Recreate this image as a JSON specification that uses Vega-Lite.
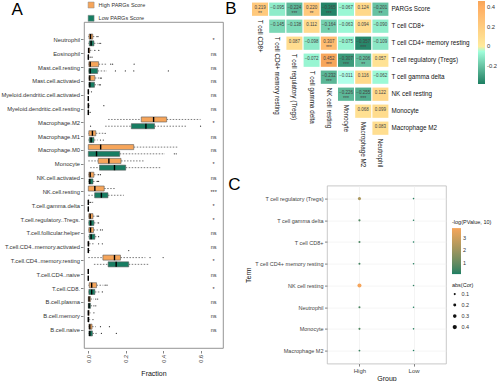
{
"$schema": "https://vega.github.io/schema/vega-lite/v6.json",
"padding": 0,
"config": {"font": "Liberation Sans", "view": {"stroke": null}, "title": {"fontWeight": "normal"}},
"datasets": {
"box": [
{"cell":"Neutrophil","grp":"High","lo":0,"q1":0.004,"med":0.012,"q3":0.024,"hi":0.04},
{"cell":"Neutrophil","grp":"Low","lo":0,"q1":0.005,"med":0.015,"q3":0.03,"hi":0.05},
{"cell":"Eosinophil","grp":"High","lo":0,"q1":0,"med":0.002,"q3":0.008,"hi":0.025},
{"cell":"Eosinophil","grp":"Low","lo":0,"q1":0,"med":0,"q3":0.002,"hi":0.004},
{"cell":"Mast.cell.resting","grp":"High","lo":0,"q1":0.003,"med":0.01,"q3":0.055,"hi":0.1},
{"cell":"Mast.cell.resting","grp":"Low","lo":0,"q1":0.003,"med":0.01,"q3":0.05,"hi":0.1},
{"cell":"Mast.cell.activated","grp":"High","lo":0,"q1":0.003,"med":0.008,"q3":0.035,"hi":0.06},
{"cell":"Mast.cell.activated","grp":"Low","lo":0,"q1":0.003,"med":0.008,"q3":0.033,"hi":0.055},
{"cell":"Myeloid.dendritic.cell.activated","grp":"High","lo":0,"q1":0,"med":0,"q3":0.002,"hi":0.005},
{"cell":"Myeloid.dendritic.cell.activated","grp":"Low","lo":0,"q1":0,"med":0,"q3":0.001,"hi":0.003},
{"cell":"Myeloid.dendritic.cell.resting","grp":"High","lo":0,"q1":0,"med":0,"q3":0.003,"hi":0.008},
{"cell":"Myeloid.dendritic.cell.resting","grp":"Low","lo":0,"q1":0,"med":0,"q3":0.002,"hi":0.005},
{"cell":"Macrophage.M2","grp":"High","lo":0.106,"q1":0.283,"med":0.349,"q3":0.419,"hi":0.6},
{"cell":"Macrophage.M2","grp":"Low","lo":0.09,"q1":0.23,"med":0.308,"q3":0.354,"hi":0.53},
{"cell":"Macrophage.M1","grp":"High","lo":0,"q1":0.003,"med":0.022,"q3":0.04,"hi":0.08},
{"cell":"Macrophage.M1","grp":"Low","lo":0,"q1":0.005,"med":0.015,"q3":0.03,"hi":0.05},
{"cell":"Macrophage.M0","grp":"High","lo":0,"q1":0,"med":0.066,"q3":0.243,"hi":0.478},
{"cell":"Macrophage.M0","grp":"Low","lo":0,"q1":0,"med":0.044,"q3":0.168,"hi":0.41},
{"cell":"Monocyte","grp":"High","lo":0,"q1":0.053,"med":0.11,"q3":0.175,"hi":0.3},
{"cell":"Monocyte","grp":"Low","lo":0.01,"q1":0.06,"med":0.14,"q3":0.2,"hi":0.39},
{"cell":"NK.cell.activated","grp":"High","lo":0,"q1":0.003,"med":0.01,"q3":0.03,"hi":0.05},
{"cell":"NK.cell.activated","grp":"Low","lo":0,"q1":0.003,"med":0.008,"q3":0.025,"hi":0.045},
{"cell":"NK.cell.resting","grp":"High","lo":0,"q1":0,"med":0.035,"q3":0.085,"hi":0.145},
{"cell":"NK.cell.resting","grp":"Low","lo":0,"q1":0.034,"med":0.07,"q3":0.105,"hi":0.19},
{"cell":"T.cell.gamma.delta","grp":"High","lo":0,"q1":0,"med":0,"q3":0.002,"hi":0.03},
{"cell":"T.cell.gamma.delta","grp":"Low","lo":0,"q1":0,"med":0,"q3":0.001,"hi":0.004},
{"cell":"T.cell.regulatory..Tregs.","grp":"High","lo":0,"q1":0.003,"med":0.01,"q3":0.025,"hi":0.045},
{"cell":"T.cell.regulatory..Tregs.","grp":"Low","lo":0,"q1":0.003,"med":0.013,"q3":0.03,"hi":0.05},
{"cell":"T.cell.follicular.helper","grp":"High","lo":0,"q1":0.003,"med":0.012,"q3":0.028,"hi":0.055},
{"cell":"T.cell.follicular.helper","grp":"Low","lo":0,"q1":0.005,"med":0.015,"q3":0.035,"hi":0.05},
{"cell":"T.cell.CD4..memory.activated","grp":"High","lo":0,"q1":0,"med":0,"q3":0.004,"hi":0.03},
{"cell":"T.cell.CD4..memory.activated","grp":"Low","lo":0,"q1":0,"med":0,"q3":0.002,"hi":0.01},
{"cell":"T.cell.CD4..memory.resting","grp":"High","lo":0,"q1":0.078,"med":0.14,"q3":0.172,"hi":0.305},
{"cell":"T.cell.CD4..memory.resting","grp":"Low","lo":0.03,"q1":0.106,"med":0.149,"q3":0.216,"hi":0.325},
{"cell":"T.cell.CD4..naive","grp":"High","lo":0,"q1":0,"med":0,"q3":0,"hi":0.001},
{"cell":"T.cell.CD4..naive","grp":"Low","lo":0,"q1":0,"med":0,"q3":0,"hi":0.001},
{"cell":"T.cell.CD8.","grp":"High","lo":0,"q1":0.005,"med":0.018,"q3":0.044,"hi":0.08},
{"cell":"T.cell.CD8.","grp":"Low","lo":0,"q1":0.003,"med":0.018,"q3":0.035,"hi":0.06},
{"cell":"B.cell.plasma","grp":"High","lo":0,"q1":0,"med":0.004,"q3":0.012,"hi":0.03},
{"cell":"B.cell.plasma","grp":"Low","lo":0,"q1":0,"med":0.004,"q3":0.012,"hi":0.025},
{"cell":"B.cell.memory","grp":"High","lo":0,"q1":0,"med":0,"q3":0.005,"hi":0.012},
{"cell":"B.cell.memory","grp":"Low","lo":0,"q1":0,"med":0,"q3":0.004,"hi":0.01},
{"cell":"B.cell.naive","grp":"High","lo":0,"q1":0.003,"med":0.008,"q3":0.02,"hi":0.04},
{"cell":"B.cell.naive","grp":"Low","lo":0,"q1":0.003,"med":0.008,"q3":0.022,"hi":0.045}
],
"outl": [
{"cell":"Neutrophil","grp":"High","v":0.046},{"cell":"Neutrophil","grp":"High","v":0.052},
{"cell":"Neutrophil","grp":"Low","v":0.058},{"cell":"Neutrophil","grp":"Low","v":0.066},
{"cell":"Eosinophil","grp":"High","v":0.035},{"cell":"Eosinophil","grp":"High","v":0.056},
{"cell":"Eosinophil","grp":"Low","v":0.01},{"cell":"Eosinophil","grp":"Low","v":0.02},
{"cell":"Mast.cell.resting","grp":"High","v":0.12},{"cell":"Mast.cell.resting","grp":"High","v":0.13},{"cell":"Mast.cell.resting","grp":"High","v":0.245},
{"cell":"Mast.cell.resting","grp":"Low","v":0.145},{"cell":"Mast.cell.resting","grp":"Low","v":0.198},{"cell":"Mast.cell.resting","grp":"Low","v":0.243},{"cell":"Mast.cell.resting","grp":"Low","v":0.428},
{"cell":"Mast.cell.activated","grp":"High","v":0.065},{"cell":"Mast.cell.activated","grp":"High","v":0.07},
{"cell":"Mast.cell.activated","grp":"Low","v":0.06},{"cell":"Mast.cell.activated","grp":"Low","v":0.065},
{"cell":"Myeloid.dendritic.cell.activated","grp":"High","v":0.017},
{"cell":"Myeloid.dendritic.cell.resting","grp":"High","v":0.083},{"cell":"Myeloid.dendritic.cell.resting","grp":"Low","v":0.01},
{"cell":"Macrophage.M2","grp":"Low","v":0.012},{"cell":"Macrophage.M2","grp":"Low","v":0.6},
{"cell":"Macrophage.M1","grp":"High","v":0.09},{"cell":"Macrophage.M1","grp":"Low","v":0.065},{"cell":"Macrophage.M1","grp":"Low","v":0.08},
{"cell":"Macrophage.M0","grp":"Low","v":0.46},{"cell":"Macrophage.M0","grp":"Low","v":0.47},
{"cell":"NK.cell.activated","grp":"High","v":0.055},{"cell":"NK.cell.activated","grp":"High","v":0.065},
{"cell":"NK.cell.activated","grp":"Low","v":0.05},{"cell":"NK.cell.activated","grp":"Low","v":0.055},
{"cell":"T.cell.gamma.delta","grp":"High","v":0.012},
{"cell":"T.cell.regulatory..Tregs.","grp":"High","v":0.05},{"cell":"T.cell.regulatory..Tregs.","grp":"High","v":0.055},{"cell":"T.cell.regulatory..Tregs.","grp":"Low","v":0.055},
{"cell":"T.cell.follicular.helper","grp":"High","v":0.065},{"cell":"T.cell.follicular.helper","grp":"High","v":0.075},{"cell":"T.cell.follicular.helper","grp":"Low","v":0.055},
{"cell":"T.cell.CD4..memory.activated","grp":"High","v":0.055},{"cell":"T.cell.CD4..memory.activated","grp":"High","v":0.075},{"cell":"T.cell.CD4..memory.activated","grp":"Low","v":0.216},
{"cell":"T.cell.CD4..memory.resting","grp":"High","v":0.33},{"cell":"T.cell.CD4..memory.resting","grp":"High","v":0.4},
{"cell":"T.cell.CD8.","grp":"High","v":0.09},{"cell":"T.cell.CD8.","grp":"High","v":0.1},{"cell":"T.cell.CD8.","grp":"Low","v":0.075},
{"cell":"B.cell.plasma","grp":"High","v":0.04},{"cell":"B.cell.plasma","grp":"High","v":0.05},{"cell":"B.cell.plasma","grp":"Low","v":0.03},{"cell":"B.cell.plasma","grp":"Low","v":0.04},
{"cell":"B.cell.memory","grp":"High","v":0.03},{"cell":"B.cell.memory","grp":"Low","v":0.025},
{"cell":"B.cell.naive","grp":"High","v":0.065},{"cell":"B.cell.naive","grp":"High","v":0.113},{"cell":"B.cell.naive","grp":"Low","v":0.07},{"cell":"B.cell.naive","grp":"Low","v":0.15}
],
"sig": [
{"cell":"Neutrophil","s":"*"},{"cell":"Eosinophil","s":"ns"},{"cell":"Mast.cell.resting","s":"ns"},{"cell":"Mast.cell.activated","s":"ns"},
{"cell":"Myeloid.dendritic.cell.activated","s":"ns"},{"cell":"Myeloid.dendritic.cell.resting","s":"ns"},{"cell":"Macrophage.M2","s":"*"},
{"cell":"Macrophage.M1","s":"ns"},{"cell":"Macrophage.M0","s":"ns"},{"cell":"Monocyte","s":"*"},{"cell":"NK.cell.activated","s":"ns"},
{"cell":"NK.cell.resting","s":"***"},{"cell":"T.cell.gamma.delta","s":"*"},{"cell":"T.cell.regulatory..Tregs.","s":"*"},
{"cell":"T.cell.follicular.helper","s":"ns"},{"cell":"T.cell.CD4..memory.activated","s":"ns"},{"cell":"T.cell.CD4..memory.resting","s":"*"},
{"cell":"T.cell.CD4..naive","s":"ns"},{"cell":"T.cell.CD8.","s":"*"},{"cell":"B.cell.plasma","s":"ns"},{"cell":"B.cell.memory","s":"ns"},{"cell":"B.cell.naive","s":"ns"}
],
"heat": [
{"row":"PARGs Score","col":"T cell CD8+","r":0.219,"sig":"**"},
{"row":"PARGs Score","col":"T cell CD4+ memory resting","r":-0.095,"sig":""},
{"row":"PARGs Score","col":"T cell regulatory (Tregs)","r":-0.224,"sig":"***"},
{"row":"PARGs Score","col":"T cell gamma delta","r":0.220,"sig":"**"},
{"row":"PARGs Score","col":"NK cell resting","r":-0.365,"sig":"***"},
{"row":"PARGs Score","col":"Monocyte","r":-0.067,"sig":""},
{"row":"PARGs Score","col":"Macrophage M2","r":0.124,"sig":""},
{"row":"PARGs Score","col":"Neutrophil","r":-0.201,"sig":"**"},
{"row":"T cell CD8+","col":"T cell CD4+ memory resting","r":-0.145,"sig":""},
{"row":"T cell CD8+","col":"T cell regulatory (Tregs)","r":-0.138,"sig":""},
{"row":"T cell CD8+","col":"T cell gamma delta","r":0.112,"sig":""},
{"row":"T cell CD8+","col":"NK cell resting","r":-0.164,"sig":"*"},
{"row":"T cell CD8+","col":"Monocyte","r":-0.063,"sig":""},
{"row":"T cell CD8+","col":"Macrophage M2","r":0.094,"sig":""},
{"row":"T cell CD8+","col":"Neutrophil","r":-0.090,"sig":""},
{"row":"T cell CD4+ memory resting","col":"T cell regulatory (Tregs)","r":0.087,"sig":""},
{"row":"T cell CD4+ memory resting","col":"T cell gamma delta","r":-0.098,"sig":""},
{"row":"T cell CD4+ memory resting","col":"NK cell resting","r":0.307,"sig":"***"},
{"row":"T cell CD4+ memory resting","col":"Monocyte","r":-0.075,"sig":""},
{"row":"T cell CD4+ memory resting","col":"Macrophage M2","r":-0.357,"sig":"***"},
{"row":"T cell CD4+ memory resting","col":"Neutrophil","r":-0.109,"sig":""},
{"row":"T cell regulatory (Tregs)","col":"T cell gamma delta","r":-0.072,"sig":""},
{"row":"T cell regulatory (Tregs)","col":"NK cell resting","r":0.452,"sig":"***"},
{"row":"T cell regulatory (Tregs)","col":"Monocyte","r":-0.307,"sig":"***"},
{"row":"T cell regulatory (Tregs)","col":"Macrophage M2","r":-0.206,"sig":"**"},
{"row":"T cell regulatory (Tregs)","col":"Neutrophil","r":0.057,"sig":""},
{"row":"T cell gamma delta","col":"NK cell resting","r":-0.232,"sig":"***"},
{"row":"T cell gamma delta","col":"Monocyte","r":-0.011,"sig":""},
{"row":"T cell gamma delta","col":"Macrophage M2","r":0.116,"sig":""},
{"row":"T cell gamma delta","col":"Neutrophil","r":-0.062,"sig":""},
{"row":"NK cell resting","col":"Monocyte","r":-0.226,"sig":"***"},
{"row":"NK cell resting","col":"Macrophage M2","r":-0.255,"sig":"***"},
{"row":"NK cell resting","col":"Neutrophil","r":0.122,"sig":""},
{"row":"Monocyte","col":"Macrophage M2","r":0.068,"sig":""},
{"row":"Monocyte","col":"Neutrophil","r":0.099,"sig":""},
{"row":"Macrophage M2","col":"Neutrophil","r":0.083,"sig":""}
],
"collab": [
{"row":"PARGs Score","col":"T cell CD8+"},
{"row":"T cell CD8+","col":"T cell CD4+ memory resting"},
{"row":"T cell CD4+ memory resting","col":"T cell regulatory (Tregs)"},
{"row":"T cell regulatory (Tregs)","col":"T cell gamma delta"},
{"row":"T cell gamma delta","col":"NK cell resting"},
{"row":"NK cell resting","col":"Monocyte"},
{"row":"Monocyte","col":"Macrophage M2"},
{"row":"Macrophage M2","col":"Neutrophil"}
],
"dots": [
{"term":"T cell regulatory (Tregs)","grp":"High","acor":0.224,"nlp":2.3},
{"term":"T cell gamma delta","grp":"High","acor":0.11,"nlp":0.7},
{"term":"T cell CD8+","grp":"High","acor":0.1,"nlp":0.6},
{"term":"T cell CD4+ memory resting","grp":"High","acor":0.095,"nlp":0.5},
{"term":"NK cell resting","grp":"High","acor":0.365,"nlp":3.78},
{"term":"Neutrophil","grp":"High","acor":0.1,"nlp":0.6},
{"term":"Monocyte","grp":"High","acor":0.1,"nlp":0.7},
{"term":"Macrophage M2","grp":"High","acor":0.08,"nlp":0.4},
{"term":"T cell regulatory (Tregs)","grp":"Low","acor":0.06,"nlp":0.2},
{"term":"T cell gamma delta","grp":"Low","acor":0.06,"nlp":0.2},
{"term":"T cell CD8+","grp":"Low","acor":0.06,"nlp":0.15},
{"term":"T cell CD4+ memory resting","grp":"Low","acor":0.06,"nlp":0.2},
{"term":"NK cell resting","grp":"Low","acor":0.06,"nlp":0.25},
{"term":"Neutrophil","grp":"Low","acor":0.06,"nlp":0.15},
{"term":"Monocyte","grp":"Low","acor":0.06,"nlp":0.2},
{"term":"Macrophage M2","grp":"Low","acor":0.06,"nlp":0.15}
]
},
"resolve": {"scale": {"color": "independent", "size": "independent"}, "legend": {"color": "independent", "size": "independent"}},
"concat": [
{
"width": 139, "height": 326,
"view": {"stroke": "#7a7a7a", "strokeWidth": 0.8},
"layer": [
{"data": {"name": "box"}, "mark": {"type": "rule", "strokeDash": [1.5, 1.5], "strokeWidth": 0.6, "color": "#222"},
 "encoding": {
  "x": {"field": "lo", "type": "quantitative", "scale": {"domain": [-0.023, 0.72], "nice": false, "zero": false},
        "axis": {"title": "Fraction", "values": [0, 0.1, 0.2, 0.3, 0.4, 0.5, 0.6], "format": ".1f", "labelAngle": -90, "labelFontSize": 5.5, "labelColor": "#333", "tickSize": 2.5, "tickColor": "#333", "tickWidth": 0.6, "domain": false, "grid": false, "offset": 2.5, "labelPadding": 1.5, "titleFontSize": 7, "titleFontWeight": "normal", "titleColor": "#111", "titlePadding": 7}},
  "x2": {"field": "q1"},
  "y": {"field": "cell", "type": "nominal", "scale": {"domain": ["Neutrophil","Eosinophil","Mast.cell.resting","Mast.cell.activated","Myeloid.dendritic.cell.activated","Myeloid.dendritic.cell.resting","Macrophage.M2","Macrophage.M1","Macrophage.M0","Monocyte","NK.cell.activated","NK.cell.resting","T.cell.gamma.delta","T.cell.regulatory..Tregs.","T.cell.follicular.helper","T.cell.CD4..memory.activated","T.cell.CD4..memory.resting","T.cell.CD4..naive","T.cell.CD8.","B.cell.plasma","B.cell.memory","B.cell.naive"], "paddingInner": 0, "paddingOuter": 0.8},
        "axis": {"title": null, "domain": false, "grid": false, "labelFontSize": 5.8, "labelColor": "#333", "tickSize": 2.5, "tickColor": "#333", "tickWidth": 0.6, "labelPadding": 1, "offset": 1, "labelLimit": 200}},
  "yOffset": {"field": "grp", "type": "nominal", "scale": {"domain": ["High", "Low"], "paddingInner": 0.25, "paddingOuter": 0.15}}
 }},
{"data": {"name": "box"}, "mark": {"type": "rule", "strokeDash": [1.5, 1.5], "strokeWidth": 0.6, "color": "#222"},
 "encoding": {
  "x": {"field": "q3", "type": "quantitative"},
  "x2": {"field": "hi"},
  "y": {"field": "cell", "type": "nominal"},
  "yOffset": {"field": "grp", "type": "nominal"}
 }},
{"data": {"name": "box"}, "mark": {"type": "bar", "stroke": "#5a5a5a", "strokeWidth": 0.6},
 "encoding": {
  "x": {"field": "q1", "type": "quantitative"},
  "x2": {"field": "q3"},
  "y": {"field": "cell", "type": "nominal"},
  "yOffset": {"field": "grp", "type": "nominal"},
  "color": {"field": "grp", "type": "nominal", "scale": {"domain": ["High", "Low"], "range": ["#F6A55A", "#177D62"]},
            "legend": {"orient": "none", "legendX": -72.4, "legendY": -20.5, "title": "A", "titleOrient": "left", "titleFontSize": 17, "titleFontWeight": "normal", "titleColor": "#000", "titleBaseline": "top", "titleAnchor": "start", "titlePadding": 64, "symbolType": "square", "symbolSize": 36, "symbolStrokeColor": "#888", "symbolStrokeWidth": 0.5, "labelFontSize": 5.5, "labelColor": "#333", "rowPadding": 4.3, "padding": 0, "labelExpr": "datum.label + ' PARGs Score'"}}
 }},
{"data": {"name": "box"}, "mark": {"type": "bar", "stroke": "#000000", "strokeWidth": 1.4, "fill": "transparent"},
 "encoding": {
  "x": {"field": "med", "type": "quantitative"},
  "x2": {"field": "med"},
  "y": {"field": "cell", "type": "nominal"},
  "yOffset": {"field": "grp", "type": "nominal"}
 }},
{"data": {"name": "outl"}, "mark": {"type": "point", "filled": true, "size": 1.5, "color": "#333", "opacity": 1},
 "encoding": {
  "x": {"field": "v", "type": "quantitative"},
  "y": {"field": "cell", "type": "nominal"},
  "yOffset": {"field": "grp", "type": "nominal"}
 }},
{"data": {"name": "sig"}, "mark": {"type": "text", "fontSize": 5.5, "color": "#333"},
 "encoding": {
  "x": {"datum": 0.67, "type": "quantitative"},
  "y": {"field": "cell", "type": "nominal"},
  "text": {"field": "s"}
 }}
]
},
{
"resolve": {"scale": {"color": "independent", "size": "independent"}, "legend": {"color": "independent", "size": "independent"}},
"concat": [
{
"width": 62, "height": 115,
"title": {"text": "B", "orient": "left", "angle": 0, "anchor": "end", "frame": "group", "fontSize": 17, "baseline": "bottom", "align": "right", "offset": 4, "dy": -4},
"encoding": {
 "x": {"field": "col", "type": "nominal", "scale": {"domain": ["T cell CD8+","T cell CD4+ memory resting","T cell regulatory (Tregs)","T cell gamma delta","NK cell resting","Monocyte","Macrophage M2","Neutrophil"], "range": [-75.6, 62], "paddingInner": 0.07, "paddingOuter": 0.035}, "axis": null},
 "y": {"field": "row", "type": "nominal", "scale": {"domain": ["PARGs Score","T cell CD8+","T cell CD4+ memory resting","T cell regulatory (Tregs)","T cell gamma delta","NK cell resting","Monocyte","Macrophage M2"], "range": [-21.3, 114.7], "paddingInner": 0.22, "paddingOuter": 0.11},
       "axis": {"orient": "right", "title": null, "domain": false, "ticks": false, "labelPadding": 2, "labelFontSize": 6.3, "labelColor": "#111", "labelLimit": 200}}
},
"layer": [
{"data": {"name": "heat"}, "mark": {"type": "rect"},
 "encoding": {"color": {"field": "r", "type": "quantitative", "scale": {"domain": [-0.38, 0, 0.46], "range": ["#1B7F62", "#FFFFFF", "#F6A55A"]},
   "legend": {"orient": "none", "legendX": 151, "legendY": -21, "title": null, "gradientLength": 83, "gradientThickness": 7, "values": [-0.2, 0, 0.2, 0.4], "labelFontSize": 5.8, "labelColor": "#333", "labelOffset": 2, "padding": 0, "labelExpr": "datum.value == 0 ? '0' : replace(format(datum.value, '.1f'), '\u2212', '-')"}}}},
{"data": {"name": "heat"}, "mark": {"type": "text", "fontSize": 4.5, "color": "#444", "dy": -1.2},
 "encoding": {"text": {"field": "r", "type": "quantitative", "format": ".3f"}}},
{"data": {"name": "heat"}, "mark": {"type": "text", "fontSize": 5, "color": "#444", "dy": 3.6},
 "encoding": {"text": {"field": "sig"}}},
{"data": {"name": "collab"}, "mark": {"type": "text", "angle": 90, "align": "left", "baseline": "middle", "fontSize": 6.3, "dx": 10.5, "color": "#111"},
 "encoding": {"text": {"field": "col"}}}
]
},
{
"width": 119, "height": 178,
"view": {"stroke": "#bbbbbb", "strokeWidth": 0.8},
"title": {"text": "C", "orient": "left", "angle": 0, "anchor": "end", "frame": "group", "fontSize": 17, "baseline": "bottom", "align": "right", "offset": -8, "dy": 8.6},
"data": {"name": "dots"},
"mark": {"type": "circle", "opacity": 1},
"encoding": {
 "x": {"field": "grp", "type": "nominal", "scale": {"type": "point", "domain": ["High", "Low"], "padding": 0.6},
       "axis": {"title": "Group", "labelAngle": 0, "grid": true, "gridColor": "#ececec", "gridWidth": 0.6, "domain": false, "tickColor": "#333", "tickSize": 2.5, "tickWidth": 0.6, "labelFontSize": 6, "labelColor": "#444", "labelPadding": 1.5, "titleFontSize": 7, "titleFontWeight": "normal", "titleColor": "#111", "titlePadding": 1}},
 "y": {"field": "term", "type": "nominal", "scale": {"type": "point", "domain": ["T cell regulatory (Tregs)","T cell gamma delta","T cell CD8+","T cell CD4+ memory resting","NK cell resting","Neutrophil","Monocyte","Macrophage M2"], "padding": 0.6},
       "axis": {"title": "Term", "grid": true, "gridColor": "#ececec", "gridWidth": 0.6, "domain": false, "tickColor": "#333", "tickSize": 2.5, "tickWidth": 0.6, "labelFontSize": 5.5, "labelColor": "#444", "labelPadding": 1.5, "titleFontSize": 7, "titleFontWeight": "normal", "titleColor": "#111", "titlePadding": 3, "labelLimit": 200}},
 "color": {"field": "nlp", "type": "quantitative", "scale": {"domain": [0.1, 3.78], "range": ["#1B7F62", "#F6A55A"], "interpolate": "lab"},
   "legend": {"orient": "none", "legendX": 125, "legendY": 34, "title": "-log(PValue, 10)", "titleFontSize": 5.5, "titleFontWeight": "normal", "titleColor": "#222", "gradientLength": 46, "gradientThickness": 9, "values": [1, 2, 3], "labelFontSize": 5.5, "labelColor": "#333", "padding": 0, "titlePadding": 3}},
 "size": {"field": "acor", "type": "quantitative", "scale": {"domain": [0.05, 0.45], "range": [2, 20]},
   "legend": {"orient": "none", "legendX": 125, "legendY": 97, "title": "abs(Cor)", "titleFontSize": 5.5, "titleFontWeight": "normal", "titleColor": "#222", "values": [0.1, 0.2, 0.3, 0.4], "labelFontSize": 5.5, "labelColor": "#333", "symbolFillColor": "#111", "symbolStrokeWidth": 0, "rowPadding": 4, "clipHeight": 6, "padding": 0, "titlePadding": 3}}
}
}
],
"columns": 1,
"spacing": 7.6
}
],
"columns": 2,
"spacing": 1
}
